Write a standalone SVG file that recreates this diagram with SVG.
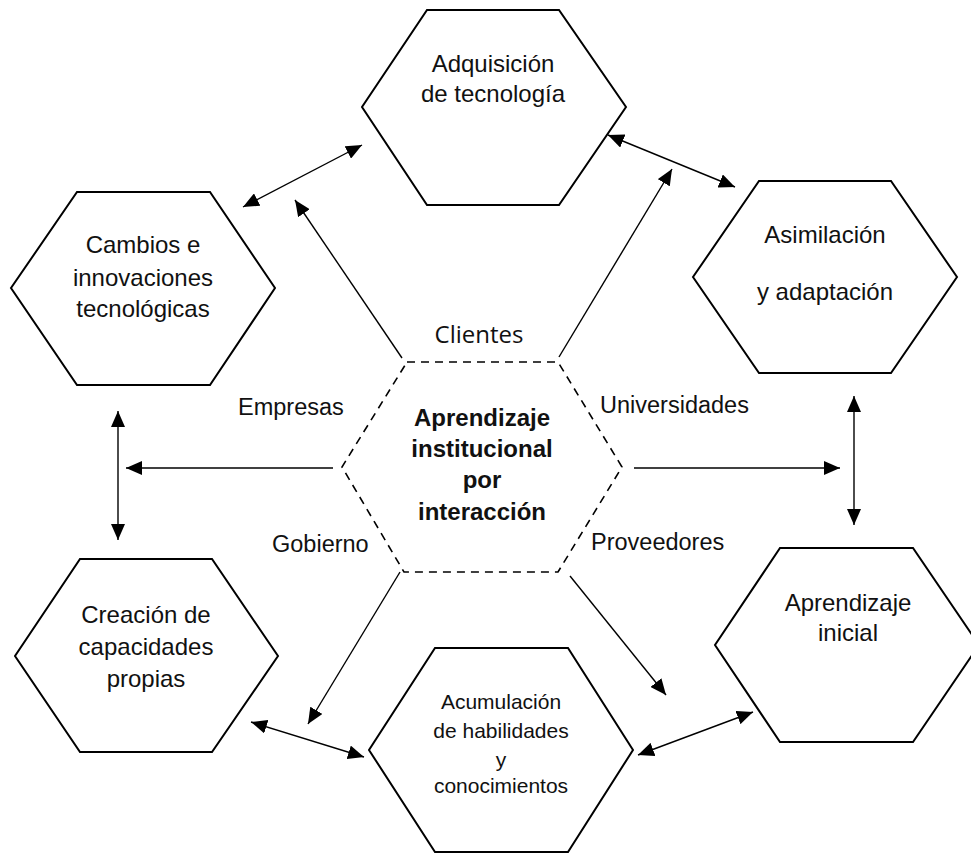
<svg xmlns="http://www.w3.org/2000/svg" width="971" height="853" viewBox="0 0 971 853">
<style>
.hex{fill:#fff;stroke:#000;stroke-width:2;stroke-linejoin:miter}
.dash{fill:#fff;stroke:#000;stroke-width:1.6;stroke-dasharray:8 6}
.t{font-family:"Liberation Sans",Arial,sans-serif;font-size:24px;fill:#111;text-anchor:middle}
.s{font-size:21px}
.b{font-weight:bold}
.lbl{font-family:"Liberation Sans",Arial,sans-serif;font-size:23.5px;fill:#111}
.cal{font-family:"Open Sans","Noto Sans",sans-serif;font-size:24px;fill:#111;text-anchor:middle}
.c line{stroke:#000;stroke-width:1.4}
.one{marker-end:url(#ah)}
.two{marker-end:url(#ah);marker-start:url(#ahs)}
</style>
<defs>
<marker id="ah" viewBox="0 0 16 14" refX="16" refY="7" markerWidth="16" markerHeight="14" markerUnits="userSpaceOnUse" orient="auto">
<path d="M0,0 L16,7 L0,14 Z" fill="#000"/>
</marker>
<marker id="ahs" viewBox="0 0 16 14" refX="0" refY="7" markerWidth="16" markerHeight="14" markerUnits="userSpaceOnUse" orient="auto">
<path d="M16,0 L0,7 L16,14 Z" fill="#000"/>
</marker>
</defs>
<rect width="971" height="853" fill="#fff"/>

<g id="adquisicion">
<polygon class="hex" points="427,10 559,10 626,107 559,205 427,205 362,107"/>
<text class="t" x="493" y="72">Adquisición</text>
<text class="t" x="493" y="102">de tecnología</text>
</g>

<g id="cambios">
<polygon class="hex" points="77,192 210,192 275,288 210,385 77,385 11,288"/>
<text class="t" x="143" y="253">Cambios e</text>
<text class="t" x="143" y="286">innovaciones</text>
<text class="t" x="143" y="317">tecnológicas</text>
</g>

<g id="asimilacion">
<polygon class="hex" points="759,181 891,181 957,277 891,373 759,373 693,277"/>
<text class="t" x="825" y="243">Asimilación</text>
<text class="t" x="825" y="300">y adaptación</text>
</g>

<g id="centro">
<polygon class="dash" points="407,362 558,362 622,467 558,572 404,572 342,467"/>
<text class="t b" x="482" y="426">Aprendizaje</text>
<text class="t b" x="482" y="457">institucional</text>
<text class="t b" x="482" y="488">por</text>
<text class="t b" x="482" y="520">interacción</text>
</g>

<g id="creacion">
<polygon class="hex" points="80,559 212,559 278,656 212,752 80,752 15,656"/>
<text class="t" x="146" y="623">Creación de</text>
<text class="t" x="146" y="655">capacidades</text>
<text class="t" x="146" y="687">propias</text>
</g>

<g id="acumulacion">
<polygon class="hex" points="435,648 568,648 633,750 568,852 435,852 369,750"/>
<text class="t s" x="501" y="709">Acumulación</text>
<text class="t s" x="501" y="738">de habilidades</text>
<text class="t s" x="501" y="767">y</text>
<text class="t s" x="501" y="793">conocimientos</text>
</g>

<g id="inicial">
<polygon class="hex" points="780,548 913,548 979,645 913,742 780,742 715,645"/>
<text class="t" x="848" y="611">Aprendizaje</text>
<text class="t" x="848" y="641">inicial</text>
</g>

<g id="labels">
<text class="cal" x="479" y="343">Clientes</text>
<text class="lbl" x="238" y="415">Empresas</text>
<text class="lbl" x="600" y="413">Universidades</text>
<text class="lbl" x="272" y="552">Gobierno</text>
<text class="lbl" x="591" y="550">Proveedores</text>
</g>

<g id="connectors" class="c">
<line class="two" x1="243" y1="207" x2="362" y2="145"/>
<line class="two" x1="608" y1="135" x2="735" y2="187"/>
<line class="two" x1="854" y1="396" x2="854" y2="525"/>
<line class="two" x1="638" y1="755" x2="753" y2="712"/>
<line class="two" x1="251" y1="722" x2="364" y2="757"/>
<line class="two" x1="118" y1="411" x2="118" y2="540"/>
<line class="one" x1="402" y1="358" x2="295" y2="200"/>
<line class="one" x1="559" y1="357" x2="672" y2="169"/>
<line class="one" x1="333" y1="468" x2="126" y2="468"/>
<line class="one" x1="634" y1="468" x2="840" y2="468"/>
<line class="one" x1="400" y1="572" x2="308" y2="724"/>
<line class="one" x1="570" y1="576" x2="666" y2="695"/>
</g>
</svg>
